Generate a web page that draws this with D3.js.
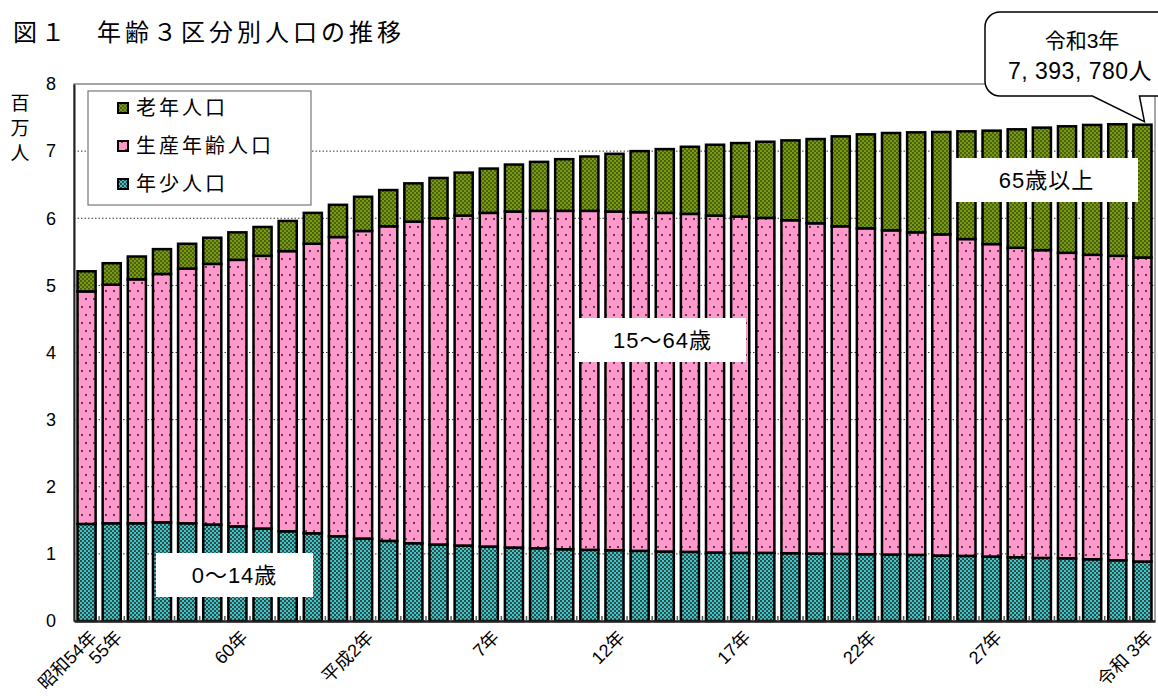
<!DOCTYPE html>
<html>
<head>
<meta charset="utf-8">
<script src="https://cdn.jsdelivr.net/npm/d3@7"></script>
<style>
  body { margin: 0; background: #fff; }
  svg { display: block; }
  text { font-family: "Liberation Sans", "Noto Sans CJK JP", sans-serif; fill: #000; }
</style>
</head>
<body>
<div id="chart"></div>
<script>
'use strict';

// 昭和54年 .. 令和3年
const years = [1979, 1980, 1981, 1982, 1983, 1984, 1985, 1986, 1987, 1988, 1989,
  1990, 1991, 1992, 1993, 1994, 1995, 1996, 1997, 1998, 1999, 2000, 2001, 2002,
  2003, 2004, 2005, 2006, 2007, 2008, 2009, 2010, 2011, 2012, 2013, 2014, 2015,
  2016, 2017, 2018, 2019, 2020, 2021];

const tickYears  = [1979, 1980, 1985, 1990, 1995, 2000, 2005, 2010, 2015, 2021];
const tickLabels = ["昭和54年", "55年", "60年", "平成2年", "7年", "12年", "17年", "22年", "27年", "令和 3年"];

// 百万人
const young = [1.446, 1.456, 1.456, 1.47, 1.456, 1.437, 1.41, 1.377, 1.337, 1.307, 1.263,
  1.228, 1.193, 1.159, 1.139, 1.124, 1.109, 1.094, 1.084, 1.069, 1.06, 1.055, 1.045,
  1.035, 1.03, 1.02, 1.015, 1.015, 1.01, 1.005, 1.0, 0.995, 0.99, 0.985, 0.975, 0.97,
  0.96, 0.95, 0.94, 0.935, 0.92, 0.905, 0.886];

const working = [3.464, 3.554, 3.634, 3.70, 3.794, 3.883, 3.97, 4.063, 4.173, 4.313, 4.457,
  4.582, 4.687, 4.791, 4.861, 4.916, 4.971, 5.006, 5.026, 5.041, 5.05, 5.045, 5.045,
  5.045, 5.035, 5.02, 5.01, 4.99, 4.96, 4.92, 4.88, 4.855, 4.83, 4.805, 4.785, 4.72,
  4.655, 4.61, 4.585, 4.55, 4.535, 4.535, 4.529];

const elderly = [0.30, 0.32, 0.34, 0.37, 0.37, 0.39, 0.41, 0.43, 0.45, 0.46, 0.48,
  0.51, 0.54, 0.57, 0.60, 0.64, 0.66, 0.70, 0.73, 0.77, 0.81, 0.86, 0.91,
  0.95, 1.00, 1.055, 1.095, 1.135, 1.19, 1.255, 1.34, 1.40, 1.45, 1.49, 1.525, 1.605,
  1.69, 1.765, 1.825, 1.885, 1.935, 1.96, 1.979];

const yTicks = [0, 1, 2, 3, 4, 5, 6, 7, 8];

const keys = ["young", "working", "elderly"];
const legendNames = { elderly: "老年人口", working: "生産年齢人口", young: "年少人口" };

const W = 1158, H = 698;
const plot = { left: 74, right: 1155, top: 84, bottom: 621 };

const data = years.map((y, i) => ({ year: y, young: young[i], working: working[i], elderly: elderly[i] }));

const svg = d3.select("#chart").append("svg").attr("width", W).attr("height", H);

// patterns
const defs = svg.append("defs");
const pGreen = defs.append("pattern").attr("id", "p-elderly").attr("patternUnits", "userSpaceOnUse")
  .attr("width", 4).attr("height", 4);
pGreen.append("rect").attr("width", 4).attr("height", 4).attr("fill", "#7a9a12");
pGreen.append("rect").attr("width", 2).attr("height", 2).attr("fill", "#4a620e");
pGreen.append("rect").attr("x", 2).attr("y", 2).attr("width", 2).attr("height", 2).attr("fill", "#4a620e");

const pPink = defs.append("pattern").attr("id", "p-working").attr("patternUnits", "userSpaceOnUse")
  .attr("width", 8).attr("height", 16);
pPink.append("rect").attr("width", 8).attr("height", 16).attr("fill", "#ff99cc");
pPink.append("rect").attr("x", 1).attr("y", 2).attr("width", 2).attr("height", 2).attr("fill", "#6a3a52");
pPink.append("rect").attr("x", 5).attr("y", 10).attr("width", 2).attr("height", 2).attr("fill", "#6a3a52");

const pTeal = defs.append("pattern").attr("id", "p-young").attr("patternUnits", "userSpaceOnUse")
  .attr("width", 4).attr("height", 4);
pTeal.append("rect").attr("width", 4).attr("height", 4).attr("fill", "#33cccc");
pTeal.append("rect").attr("width", 2).attr("height", 2).attr("fill", "#3c4646");
pTeal.append("rect").attr("x", 2).attr("y", 2).attr("width", 2).attr("height", 2).attr("fill", "#3c4646");

// scales
const x = d3.scaleBand().domain(years).range([plot.left, plot.right]).paddingInner(0.28).paddingOuter(0.14);
const y = d3.scaleLinear().domain([0, 8]).range([plot.bottom, plot.top]);

// title
svg.append("text").attr("x", 13).attr("y", 41)
  .style("font-family", "'Noto Sans CJK JP', sans-serif")
  .style("font-size", "24px").style("letter-spacing", "4px")
  .text("図１　年齢３区分別人口の推移");

// y axis title (vertical)
["百", "万", "人"].forEach((c, i) => {
  svg.append("text").attr("x", 20).attr("y", 110 + i * 25).attr("text-anchor", "middle")
    .style("font-family", "'Noto Sans CJK JP', sans-serif")
    .style("font-size", "19px").text(c);
});

// frame
svg.append("rect").attr("x", plot.left).attr("y", plot.top)
  .attr("width", plot.right - plot.left).attr("height", plot.bottom - plot.top)
  .attr("fill", "none").attr("stroke", "#888").attr("stroke-width", 1.5);

// gridlines
svg.append("g").selectAll("line").data(yTicks.filter(d => d > 0 && d < 8)).join("line")
  .attr("x1", plot.left).attr("x2", plot.right)
  .attr("y1", d => y(d)).attr("y2", d => y(d))
  .attr("stroke", "#000").attr("stroke-width", 0.8).attr("stroke-dasharray", "1.5,2");

// y axis
const yAxis = d3.axisLeft(y).tickValues(yTicks).tickSize(0).tickPadding(18);
const gy = svg.append("g").attr("transform", `translate(${plot.left},0)`).call(yAxis);
gy.select(".domain").attr("stroke", "#222").attr("stroke-width", 2);
gy.selectAll("text").style("font-size", "18px").style("font-family", "'Liberation Sans', sans-serif");

// bars
const layers = d3.stack().keys(keys)(data);
svg.append("g").selectAll("g").data(layers).join("g")
  .attr("fill", d => `url(#p-${d.key})`)
  .selectAll("rect").data(d => d).join("rect")
  .attr("x", d => x(d.data.year))
  .attr("width", x.bandwidth())
  .attr("y", d => y(d[1]))
  .attr("height", d => y(d[0]) - y(d[1]))
  .attr("stroke", "#000").attr("stroke-width", 2.5);

// x axis
const xAxis = d3.axisBottom(x).tickValues([]).tickSize(0);
const gx = svg.append("g").attr("transform", `translate(0,${plot.bottom})`).call(xAxis);
gx.select(".domain").attr("stroke", "#222").attr("stroke-width", 2.5);

// minor ticks between bars (inside)
const step = x.step();
svg.append("g").selectAll("line").data(years.slice(1)).join("line")
  .attr("x1", d => x(d) - (step - x.bandwidth()) / 2).attr("x2", d => x(d) - (step - x.bandwidth()) / 2)
  .attr("y1", plot.bottom).attr("y2", plot.bottom - 5)
  .attr("stroke", "#555").attr("stroke-width", 1.5);

// x labels
svg.append("g").selectAll("text").data(tickYears).join("text")
  .attr("transform", d => `translate(${x(d) + x.bandwidth() / 2 + 7},${plot.bottom + 13}) rotate(-45)`)
  .attr("text-anchor", "end")
  .attr("dy", "0.35em")
  .style("font-size", "18px")
  .text((d, i) => tickLabels[i]);

// legend
const lg = svg.append("g").attr("transform", "translate(88,91)");
lg.append("rect").attr("width", 223).attr("height", 114).attr("fill", "#fff")
  .attr("stroke", "#777").attr("stroke-width", 1.2);
["elderly", "working", "young"].forEach((k, i) => {
  const cy = 17 + i * 38;
  lg.append("rect").attr("x", 30).attr("y", cy - 5).attr("width", 10).attr("height", 10)
    .attr("fill", `url(#p-${k})`).attr("stroke", "#000").attr("stroke-width", 2);
  lg.append("text").attr("x", 48).attr("y", cy).attr("dy", "0.36em")
    .style("font-family", "'Noto Sans CJK JP', sans-serif")
    .style("font-size", "20px").style("letter-spacing", "3px")
    .text(legendNames[k]);
});

// annotation boxes
const notes = [
  { text: "0～14歳", x: 156, y: 553, w: 157, h: 44 },
  { text: "15～64歳", x: 579, y: 318, w: 167, h: 44 },
  { text: "65歳以上", x: 955, y: 158, w: 183, h: 44 }
];
notes.forEach(n => {
  svg.append("rect").attr("x", n.x).attr("y", n.y).attr("width", n.w).attr("height", n.h).attr("fill", "#fff");
  svg.append("text").attr("x", n.x + n.w / 2).attr("y", n.y + n.h / 2).attr("dy", "0.36em")
    .attr("text-anchor", "middle")
    .style("font-size", "22px").style("letter-spacing", "1px")
    .text(n.text);
});

// callout for latest year
const last = data[data.length - 1];
const tipX = x(last.year) + x.bandwidth() / 2 + 2;
const tipY = y(last.young + last.working + last.elderly) - 3;
const bx0 = 985, by0 = 12, bx1 = 1180, by1 = 96, r = 15;
const callout = d3.path();
callout.moveTo(bx0 + r, by0);
callout.lineTo(bx1, by0);
callout.lineTo(bx1, by1);
callout.lineTo(tipX - 5, by1);
callout.lineTo(tipX, tipY);
callout.lineTo(tipX - 52, by1);
callout.lineTo(bx0 + r, by1);
callout.arcTo(bx0, by1, bx0, by1 - r, r);
callout.lineTo(bx0, by0 + r);
callout.arcTo(bx0, by0, bx0 + r, by0, r);
callout.closePath();
svg.append("path").attr("d", callout.toString())
  .attr("fill", "#fff").attr("stroke", "#000").attr("stroke-width", 1.5);
svg.append("text").attr("x", 1082).attr("y", 40).attr("dy", "0.36em").attr("text-anchor", "middle")
  .style("font-size", "21px").text("令和3年");
svg.append("text").attr("x", 1080).attr("y", 71).attr("dy", "0.36em").attr("text-anchor", "middle")
  .style("font-size", "23px").style("letter-spacing", "0.5px").text("7, 393, 780人");
</script>
</body>
</html>
